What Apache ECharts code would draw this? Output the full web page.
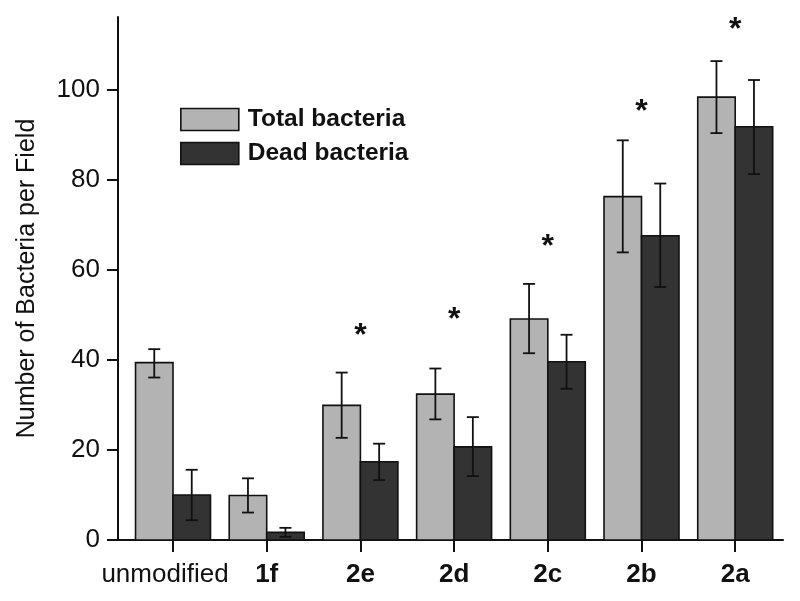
<!DOCTYPE html>
<html>
<head>
<meta charset="utf-8">
<script src="https://cdn.jsdelivr.net/npm/echarts@6/dist/echarts.min.js"></script>
<style>
html,body{margin:0;padding:0;background:#fff;}
#chart{width:800px;height:601px;}
</style>
</head>
<body>
<div id="chart"></div>
<script>
const categories = ['unmodified', '1f', '2e', '2d', '2c', '2b', '2a'];
const totalMean = [39.4, 9.9, 29.9, 32.4, 49.1, 76.3, 98.4];
const totalLow  = [36.1, 6.1, 22.7, 26.8, 41.5, 63.9, 90.4];
const totalHigh = [42.4, 13.7, 37.2, 38.1, 56.9, 88.8, 106.4];
const deadMean  = [10.0, 1.7, 17.4, 20.7, 39.6, 67.6, 91.8];
const deadLow   = [4.4, 0.7, 13.3, 14.2, 33.6, 56.2, 81.3];
const deadHigh  = [15.6, 2.7, 21.4, 27.3, 45.6, 79.2, 102.2];
const starLevel = [null, null, 46.9, 50.4, 66.7, 96.7, 114.9];
const yTicks = [0, 20, 40, 60, 80, 100];

const catPos = categories.map((c, i) => i + 1);
const FONT = '"Liberation Sans", Arial, Helvetica, sans-serif';
const LIGHT = '#b3b3b3';
const DARK = '#333333';

function barSeries(name, values, offset, color) {
  return {
    name: name,
    type: 'custom',
    itemStyle: { color: color },
    data: values.map((v, i) => [catPos[i], v]),
    encode: { x: 0, y: 1 },
    renderItem: function (params, api) {
      const x = api.value(0) + offset;
      const v = api.value(1);
      const p0 = api.coord([x - 0.2, v]);
      const p1 = api.coord([x + 0.2, 0]);
      return {
        type: 'rect',
        shape: { x: p0[0], y: p0[1], width: p1[0] - p0[0], height: p1[1] - p0[1] },
        style: { fill: color, stroke: '#111', lineWidth: 1.6 }
      };
    },
    z: 2
  };
}

function errSeries(name, low, high, offset) {
  return {
    name: name,
    type: 'custom',
    data: low.map((l, i) => [catPos[i], l, high[i]]),
    encode: { x: 0, y: [1, 2] },
    renderItem: function (params, api) {
      const x = api.value(0) + offset;
      const a = api.coord([x, api.value(1)]);
      const b = api.coord([x, api.value(2)]);
      const hw = 6;
      const st = { stroke: '#111', lineWidth: 1.8, fill: null };
      return {
        type: 'group',
        children: [
          { type: 'line', shape: { x1: a[0], y1: a[1], x2: b[0], y2: b[1] }, style: st },
          { type: 'line', shape: { x1: a[0] - hw, y1: a[1], x2: a[0] + hw, y2: a[1] }, style: st },
          { type: 'line', shape: { x1: b[0] - hw, y1: b[1], x2: b[0] + hw, y2: b[1] }, style: st }
        ]
      };
    },
    z: 3
  };
}

const starData = [];
starLevel.forEach((s, i) => { if (s !== null) starData.push([catPos[i], s]); });

const chart = echarts.init(document.getElementById('chart'), null, { renderer: 'canvas' });
chart.setOption({
  backgroundColor: '#ffffff',
  animation: false,
  textStyle: { fontFamily: FONT },
  grid: { left: 118, right: 17, top: 17, bottom: 61, containLabel: false },
  legend: {
    orient: 'vertical',
    left: 180,
    top: 107,
    padding: 0,
    itemWidth: 58,
    itemHeight: 22,
    itemGap: 9,
    selectedMode: false,
    textStyle: { fontFamily: FONT, fontSize: 24.5, fontWeight: 'bold', color: '#111', padding: [0, 0, 0, 4] },
    data: [
      { name: 'Total bacteria', icon: 'rect', itemStyle: { color: LIGHT, borderColor: '#111', borderWidth: 1.6 } },
      { name: 'Dead bacteria', icon: 'rect', itemStyle: { color: DARK, borderColor: '#111', borderWidth: 1.6 } }
    ]
  },
  xAxis: {
    type: 'value',
    min: 0.413,
    max: 7.51,
    splitLine: { show: false },
    axisLine: { show: true, onZero: false, lineStyle: { color: '#111', width: 2 } },
    axisTick: { show: true, customValues: catPos, length: 12, lineStyle: { color: '#111', width: 2 } },
    axisLabel: {
      customValues: catPos,
      margin: 22,
      fontSize: 26,
      color: '#111',
      fontFamily: FONT,
      formatter: function (v) {
        const name = categories[Math.round(v) - 1];
        return Math.round(v) === 1 ? '{n|' + name + '}' : '{b|' + name + '}';
      },
      rich: {
        n: { fontSize: 26, fontFamily: FONT, color: '#111', padding: [0, 16, 0, 0] },
        b: { fontSize: 26, fontFamily: FONT, color: '#111', fontWeight: 'bold' }
      }
    }
  },
  yAxis: {
    type: 'value',
    min: 0,
    max: 116.2,
    name: 'Number of Bacteria per Field',
    nameLocation: 'middle',
    nameGap: 78,
    nameTextStyle: { fontSize: 25, fontFamily: FONT, color: '#111' },
    splitLine: { show: false },
    axisLine: { show: true, lineStyle: { color: '#111', width: 2 } },
    axisTick: { show: true, customValues: yTicks, length: 11, lineStyle: { color: '#111', width: 2 } },
    axisLabel: { customValues: yTicks, margin: 18, fontSize: 26, color: '#111', fontFamily: FONT }
  },
  series: [
    barSeries('Total bacteria', totalMean, -0.2, LIGHT),
    barSeries('Dead bacteria', deadMean, 0.2, DARK),
    errSeries('Total err', totalLow, totalHigh, -0.2),
    errSeries('Dead err', deadLow, deadHigh, 0.2),
    {
      name: 'Significance',
      type: 'custom',
      data: starData,
      encode: { x: 0, y: 1 },
      renderItem: function (params, api) {
        const p = api.coord([api.value(0), api.value(1)]);
        return {
          type: 'text',
          x: p[0],
          y: p[1] + 7,
          style: { text: '*', fontSize: 32, fontWeight: 'bold', fontFamily: FONT, fill: '#111', align: 'center', verticalAlign: 'middle' }
        };
      },
      z: 4
    }
  ]
});
</script>
</body>
</html>
